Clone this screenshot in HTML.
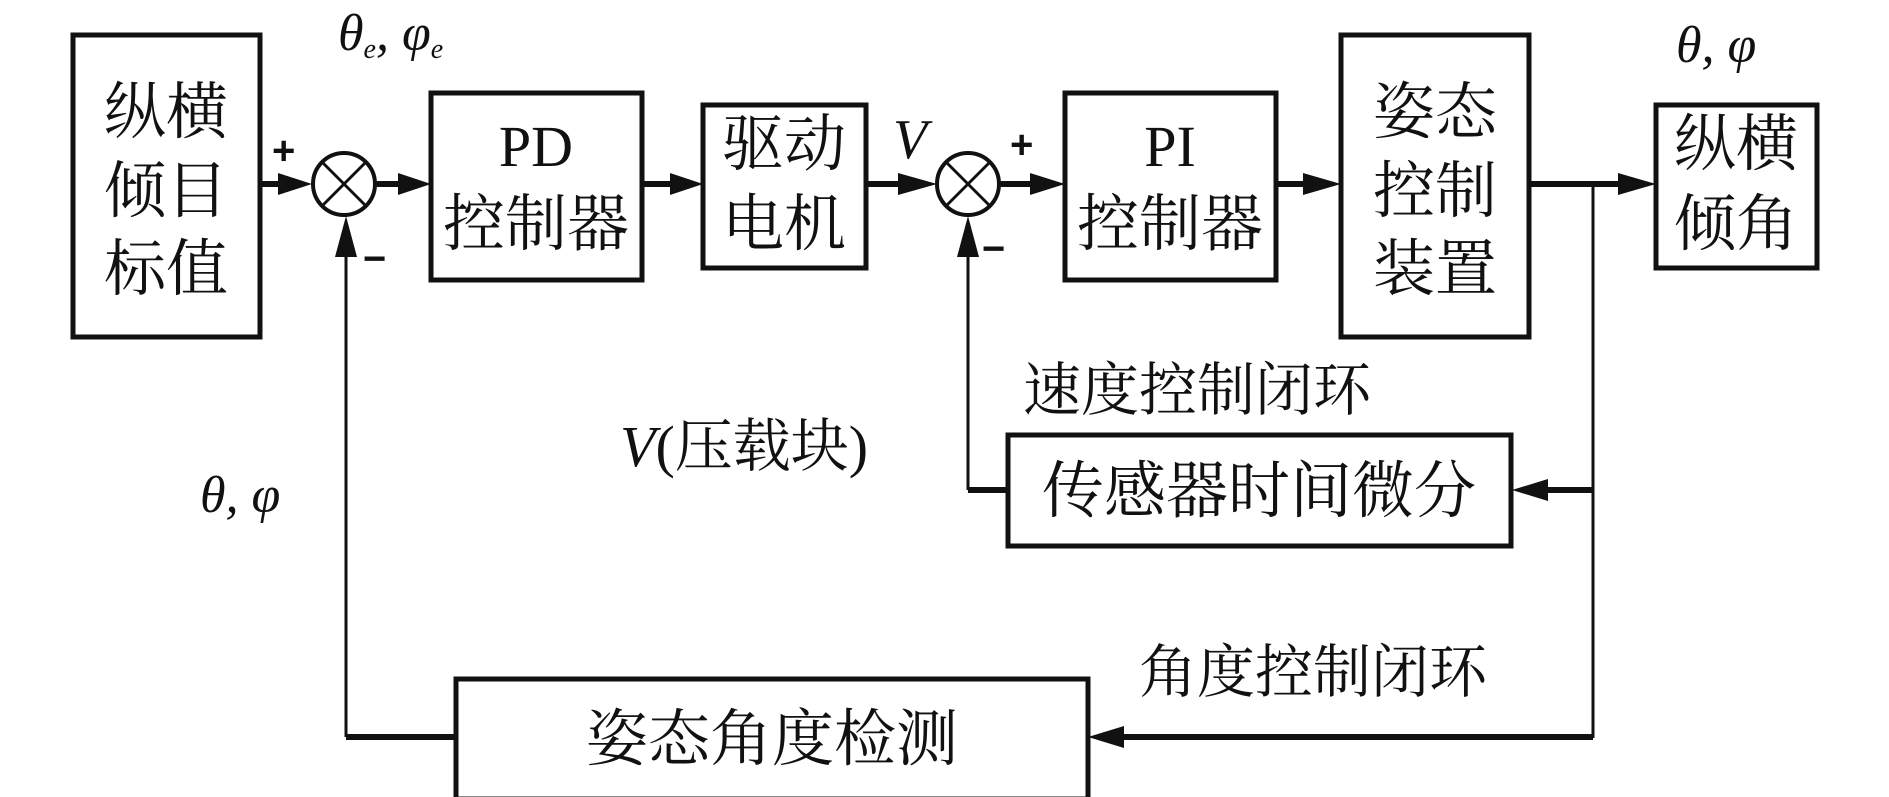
<!DOCTYPE html>
<html><head><meta charset="utf-8"><style>
html,body{margin:0;padding:0;background:#fff;}
svg{display:block;}
text{font-family:"Liberation Serif","Noto Serif CJK SC",serif;fill:#111;}
</style></head><body>
<svg width="1889" height="797" viewBox="0 0 1889 797" xmlns="http://www.w3.org/2000/svg">
<defs>
<marker id="a" markerWidth="10" markerHeight="8" refX="10" refY="4" orient="auto" markerUnits="userSpaceOnUse" viewBox="0 0 10 8">
<path d="M0,0 L10,4 L0,8 Z" fill="#111"/></marker>
</defs>
<g fill="none" stroke="#111">
<!-- boxes -->
<rect x="73" y="35" width="187" height="302" stroke-width="5"/>
<rect x="431" y="93" width="211" height="187" stroke-width="5"/>
<rect x="703" y="105" width="163" height="163" stroke-width="5"/>
<rect x="1065" y="93" width="211" height="187" stroke-width="5"/>
<rect x="1341" y="35" width="188" height="302" stroke-width="5"/>
<rect x="1656" y="105" width="161" height="163" stroke-width="5"/>
<rect x="1008" y="435" width="503" height="111" stroke-width="5"/>
<rect x="456" y="679" width="632" height="120" stroke-width="5"/>
<!-- sum circles -->
<circle cx="344" cy="184" r="31" stroke-width="4"/>
<line x1="322" y1="162" x2="366" y2="206" stroke-width="3"/>
<line x1="366" y1="162" x2="322" y2="206" stroke-width="3"/>
<circle cx="968" cy="184" r="31" stroke-width="4"/>
<line x1="946" y1="162" x2="990" y2="206" stroke-width="3"/>
<line x1="990" y1="162" x2="946" y2="206" stroke-width="3"/>
</g>
<g fill="none" stroke="#111" stroke-width="6">
<line x1="260" y1="184" x2="280" y2="184"/>
<line x1="375" y1="184" x2="400" y2="184"/>
<line x1="642" y1="184" x2="672" y2="184"/>
<line x1="866" y1="184" x2="900" y2="184"/>
<line x1="999" y1="184" x2="1030" y2="184"/>
<line x1="1276" y1="184" x2="1305" y2="184"/>
<line x1="1529" y1="184" x2="1620" y2="184"/>
<line x1="1593" y1="490" x2="1546" y2="490"/>
<line x1="1593" y1="737" x2="1122" y2="737"/>
<line x1="1008" y1="490" x2="968" y2="490"/>
<line x1="456" y1="737" x2="346" y2="737"/>
</g>
<g fill="none" stroke="#111" stroke-width="3">
<line x1="1593" y1="184" x2="1593" y2="738"/>
<line x1="968" y1="490" x2="968" y2="255"/>
<line x1="346" y1="737" x2="346" y2="255"/>
</g>
<g fill="#111">
<path d="M278,173 L312,184 L278,195Z"/>
<path d="M398,173 L431,184 L398,195Z"/>
<path d="M670,173 L703,184 L670,195Z"/>
<path d="M898,173 L937,184 L898,195Z"/>
<path d="M1030,173 L1065,184 L1030,195Z"/>
<path d="M1303,173 L1341,184 L1303,195Z"/>
<path d="M1618,173 L1656,184 L1618,195Z"/>
<path d="M1548,479 L1512,490 L1548,501Z"/>
<path d="M1124,726 L1088,737 L1124,748Z"/>
<path d="M957,257 L968,216 L979,257Z"/>
<path d="M335,257 L346,216 L357,257Z"/>
</g>
<g font-size="62" text-anchor="middle">
<text x="166" y="133">纵横</text>
<text x="166" y="212">倾目</text>
<text x="166" y="290">标值</text>
<text x="536" y="166" font-size="58">PD</text>
<text x="536" y="245">控制器</text>
<text x="784" y="165">驱动</text>
<text x="784" y="245">电机</text>
<text x="1170" y="166" font-size="58">PI</text>
<text x="1170" y="245">控制器</text>
<text x="1435" y="133">姿态</text>
<text x="1435" y="212">控制</text>
<text x="1435" y="290">装置</text>
<text x="1736" y="165">纵横</text>
<text x="1736" y="245">倾角</text>
<text x="1259" y="512">传感器时间微分</text>
<text x="772" y="760">姿态角度检测</text>
</g>
<g font-size="58">
<text x="1023" y="410">速度控制闭环</text>
<text x="1139" y="692">角度控制闭环</text>
<text x="620" y="466"><tspan font-style="italic">V</tspan>(压载块)</text>
</g>
<g font-size="52" font-style="italic">
<text x="338" y="50">θ<tspan font-size="28" dy="8">e</tspan><tspan dy="-8">, φ</tspan><tspan font-size="28" dy="8">e</tspan></text>
<text x="1676" y="62">θ, φ</text>
<text x="200" y="512">θ, φ</text>
<text x="893" y="158" font-size="56">V</text>
</g>
<g font-family="Liberation Sans" font-size="40" font-weight="bold">
<text x="272" y="164" style="font-family:'Liberation Sans',sans-serif">+</text>
<text x="363" y="272" style="font-family:'Liberation Sans',sans-serif">−</text>
<text x="1010" y="158" style="font-family:'Liberation Sans',sans-serif">+</text>
<text x="982" y="262" style="font-family:'Liberation Sans',sans-serif">−</text>
</g>
</svg>
</body></html>
